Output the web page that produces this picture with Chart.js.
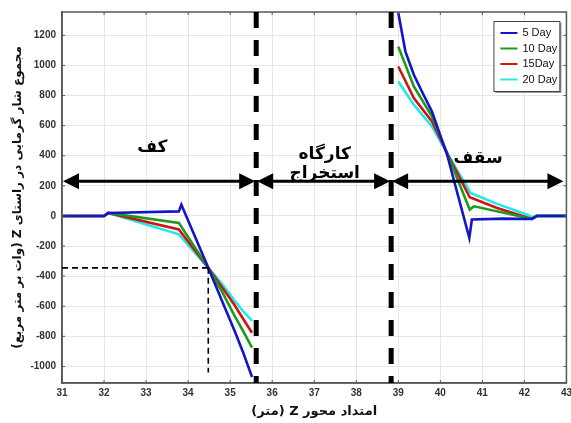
<!DOCTYPE html>
<html>
<head>
    <meta charset="utf-8">
    <style>
        html, body {
            margin: 0;
            padding: 0;
            background: #fff;
            overflow: hidden;
        }

        #wrap {
            width: 576px;
            height: 423px;
        }
    </style>
</head>
<body>
    <div id="wrap"><canvas id="heatChart"></canvas></div>

    <script src="https://cdn.jsdelivr.net/npm/chart.js@4/dist/chart.umd.min.js"></script>
    <script>
        // axis ticks
        const xTicks = [31, 32, 33, 34, 35, 36, 37, 38, 39, 40, 41, 42, 43];
        const yTicks = [-1000, -800, -600, -400, -200, 0, 200, 400, 600, 800, 1000, 1200];

        const seriesLabels = ['5 Day', '10 Day', '15Day', '20 Day'];
        const seriesColors = ['#1414c8', '#1c9a1c', '#d01414', '#1eeaea'];

        // Z position (m) and heat flux values, null = gap over the extraction zone
        const z5 = [31, 32.0, 32.1, 33.78, 33.84, 34.48, 34.8, 35.1, 35.3, 35.52, 37, 39.0, 39.17, 39.37, 39.6, 39.8, 40.16, 40.69, 40.75, 41.5, 42.18, 42.3, 43];
        const q5 = [0, 0, 20, 30, 75, -345, -560, -760, -900, -1070, null, 1350, 1092, 938, 805, 694, 408, -146, -24, -18, -20, 0, 0];

        const z10 = [31, 32.0, 32.1, 33.78, 34.48, 34.8, 35.1, 35.3, 35.52, 37, 39.0, 39.37, 39.8, 40.16, 40.7, 40.8, 42.18, 42.3, 43];
        const q10 = [0, 0, 20, -46, -345, -500, -660, -760, -875, null, 1125, 860, 661, 418, 42, 64, -20, 0, 0];

        const z15 = [31, 32.0, 32.1, 33.78, 34.48, 34.8, 35.1, 35.3, 35.52, 37, 39.0, 39.37, 39.8, 40.16, 40.7, 41.35, 42.18, 42.3, 43];
        const q15 = [0, 0, 20, -90, -345, -470, -590, -680, -776, null, 993, 783, 628, 418, 124, 53, -20, 0, 0];

        const z20 = [31, 32.0, 32.1, 33.78, 34.48, 34.8, 35.1, 35.3, 35.52, 37, 39.0, 39.37, 39.8, 40.16, 40.72, 41.35, 42.1, 42.18, 42.3, 43];
        const q20 = [0, 0, 20, -122, -345, -450, -560, -630, -698, null, 893, 739, 595, 418, 153, 80, 5, -10, 5, 5];

        const zSets = [z5, z10, z15, z20];
        const qSets = [q5, q10, q15, q20];

        // annotation positions, in axis units
        const zoneLines = [35.62, 38.83];
        const arrowLevel = 230;
        const crossPoint = { x: 34.48, y: -345 };
        const crossBottom = -1040;
        const zoneTexts = [
            { text: 'کف', x: 33.15, y: 455 },
            { text: 'کارگاه', x: 37.25, y: 410 },
            { text: 'استخراج', x: 37.25, y: 282 },
            { text: 'سقف', x: 40.9, y: 383 }
        ];

        const persianFont = '"DejaVu Sans", sans-serif';
        // right-to-left embedding so mixed Persian/Latin titles keep their order
        const rtl = s => '\u202B' + s + '\u202C';

        const datasets = seriesLabels.map((label, i) => ({
            label: label,
            data: zSets[i].map((z, k) => ({ x: z, y: qSets[i][k] })),
            borderColor: seriesColors[i],
            backgroundColor: seriesColors[i],
            borderWidth: 2.6,
            pointRadius: 0,
            showLine: true,
            spanGaps: false,
            tension: 0
        }));

        function arrowHead(ctx, x, y, dir) {
            ctx.beginPath();
            ctx.moveTo(x, y);
            ctx.lineTo(x - dir * 16, y - 8);
            ctx.lineTo(x - dir * 16, y + 8);
            ctx.closePath();
            ctx.fill();
        }

        const decorPlugin = {
            id: 'decor',
            afterDatasetsDraw(chart) {
                const ctx = chart.ctx;
                const area = chart.chartArea;
                const xs = chart.scales.x;
                const ys = chart.scales.y;

                ctx.save();

                // frame and inner tick marks
                ctx.strokeStyle = '#555';
                ctx.lineWidth = 1.5;
                ctx.strokeRect(area.left, area.top, area.right - area.left, area.bottom - area.top);
                ctx.lineWidth = 1;
                xTicks.forEach(v => {
                    const px = xs.getPixelForValue(v);
                    ctx.beginPath();
                    ctx.moveTo(px, area.top);
                    ctx.lineTo(px, area.top + 3);
                    ctx.moveTo(px, area.bottom);
                    ctx.lineTo(px, area.bottom - 3);
                    ctx.stroke();
                });
                yTicks.forEach(v => {
                    const py = ys.getPixelForValue(v);
                    ctx.beginPath();
                    ctx.moveTo(area.left, py);
                    ctx.lineTo(area.left + 3, py);
                    ctx.moveTo(area.right, py);
                    ctx.lineTo(area.right - 3, py);
                    ctx.stroke();
                });

                // thin dashed guide to the crossing point
                const cx = xs.getPixelForValue(crossPoint.x);
                const cy = ys.getPixelForValue(crossPoint.y);
                ctx.strokeStyle = '#000';
                ctx.lineWidth = 1.6;
                ctx.setLineDash([6, 4]);
                ctx.beginPath();
                ctx.moveTo(area.left, cy);
                ctx.lineTo(cx, cy);
                ctx.moveTo(cx, cy);
                ctx.lineTo(cx, ys.getPixelForValue(crossBottom));
                ctx.stroke();

                // thick dashed zone boundaries
                ctx.lineWidth = 5;
                ctx.setLineDash([16, 12]);
                zoneLines.forEach(v => {
                    const px = xs.getPixelForValue(v);
                    ctx.beginPath();
                    ctx.moveTo(px, area.top);
                    ctx.lineTo(px, area.bottom);
                    ctx.stroke();
                });
                ctx.setLineDash([]);

                // texts
                ctx.fillStyle = '#000';
                ctx.textAlign = 'center';
                ctx.textBaseline = 'middle';
                ctx.font = 'bold 17px ' + persianFont;
                ctx.direction = 'rtl';
                ctx.letterSpacing = '2px';
                zoneTexts.forEach(t => {
                    ctx.fillText(t.text, xs.getPixelForValue(t.x), ys.getPixelForValue(t.y));
                });
                ctx.letterSpacing = '0px';
                ctx.direction = 'ltr';

                // double arrows
                const ay = ys.getPixelForValue(arrowLevel);
                const stops = [area.left, xs.getPixelForValue(zoneLines[0]), xs.getPixelForValue(zoneLines[1]), area.right - 2];
                ctx.lineWidth = 3;
                ctx.strokeStyle = '#000';
                for (let i = 0; i < 3; i++) {
                    const a = stops[i] + 1;
                    const b = stops[i + 1] - 1;
                    ctx.beginPath();
                    ctx.moveTo(a + 8, ay);
                    ctx.lineTo(b - 8, ay);
                    ctx.stroke();
                    arrowHead(ctx, a, ay, -1);
                    arrowHead(ctx, b, ay, 1);
                }

                // legend box
                const lw = 66, lh = 70;
                const lx = area.right - 7 - lw;
                const ly = area.top + 9;
                ctx.fillStyle = '#999';
                ctx.fillRect(lx + 2, ly + 2, lw, lh);
                ctx.fillStyle = '#fff';
                ctx.fillRect(lx, ly, lw, lh);
                ctx.strokeStyle = '#444';
                ctx.lineWidth = 1;
                ctx.strokeRect(lx + 0.5, ly + 0.5, lw, lh);
                ctx.font = '11px "Liberation Sans", Arial, sans-serif';
                ctx.textAlign = 'left';
                ctx.textBaseline = 'middle';
                chart.data.datasets.forEach((ds, i) => {
                    const ry = ly + 12 + i * 15.5;
                    ctx.strokeStyle = ds.borderColor;
                    ctx.lineWidth = 2;
                    ctx.beginPath();
                    ctx.moveTo(lx + 7, ry);
                    ctx.lineTo(lx + 24, ry);
                    ctx.stroke();
                    ctx.fillStyle = '#111';
                    ctx.fillText(ds.label, lx + 29, ry);
                });

                ctx.restore();
            }
        };

        const tickFont = { family: '"Liberation Sans", Arial, sans-serif', size: 10, weight: 'bold' };

        new Chart(document.getElementById('heatChart'), {
            type: 'scatter',
            data: { datasets: datasets },
            options: {
                responsive: true,
                maintainAspectRatio: false,
                animation: false,
                layout: { padding: { top: 9, left: 0, right: 0, bottom: 0 } },
                plugins: {
                    legend: { display: false },
                    tooltip: { enabled: false }
                },
                scales: {
                    x: {
                        type: 'linear',
                        min: 31,
                        max: 43,
                        afterBuildTicks: scale => { scale.ticks = xTicks.map(v => ({ value: v })); },
                        afterFit: scale => { scale.height = 40; },
                        grid: { color: '#e6e6e6', drawTicks: false },
                        border: { color: '#555', width: 1.5 },
                        ticks: { font: tickFont, color: '#333', padding: 4, maxRotation: 0, callback: v => String(v) },
                        title: {
                            display: true,
                            text: rtl('امتداد محور Z (متر)'),
                            font: { family: persianFont, size: 13, weight: 'bold' },
                            color: '#111',
                            padding: { top: 0, bottom: 4 }
                        }
                    },
                    y: {
                        min: -1110,
                        max: 1355,
                        afterBuildTicks: scale => { scale.ticks = yTicks.map(v => ({ value: v })); },
                        afterFit: scale => { scale.width = 62; },
                        grid: { color: '#e6e6e6', drawTicks: false },
                        border: { color: '#555', width: 1.5 },
                        ticks: { font: tickFont, color: '#333', padding: 6, callback: v => String(v) },
                        title: {
                            display: true,
                            text: rtl('مجموع شار گرمایی در راستای Z (وات بر متر مربع)'),
                            font: { family: persianFont, size: 12, weight: 'bold' },
                            color: '#111',
                            padding: { top: 11, bottom: 0 }
                        }
                    }
                }
            },
            plugins: [decorPlugin]
        });
    </script>
</body>
</html>
